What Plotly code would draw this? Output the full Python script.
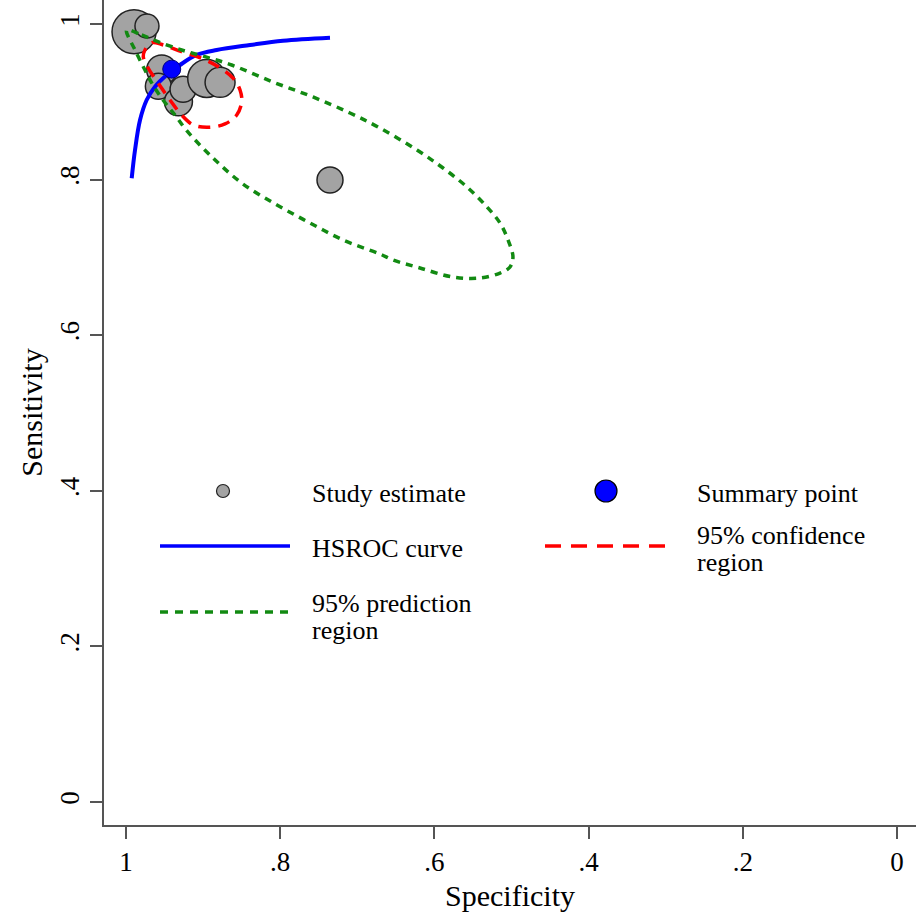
import plotly.graph_objects as go

# ---- data ----
study_spec = [0.9896, 0.9728, 0.9537, 0.9580, 0.9320, 0.9260, 0.8953, 0.8780, 0.7354]
study_sens = [0.9900, 0.9974, 0.9410, 0.9200, 0.9000, 0.9160, 0.9300, 0.9250, 0.7995]
study_size = [44, 24, 30, 26, 28, 26, 38, 30, 26]

summary_spec = [0.9407]
summary_sens = [0.9420]

hsroc_spec = [0.9926, 0.9883, 0.9818, 0.9732, 0.9624, 0.9472, 0.9300, 0.9083, 0.8824, 0.8392, 0.7964, 0.7354]
hsroc_sens = [0.8017, 0.8380, 0.8766, 0.9023, 0.9194, 0.9344, 0.9473, 0.9602, 0.9666, 0.9730, 0.9785, 0.9824]

conf_spec = [0.9754, 0.9667, 0.9516, 0.9278, 0.9018, 0.8803, 0.8608, 0.8521, 0.8499, 0.8564,
             0.8716, 0.8933, 0.9127, 0.9278, 0.9429, 0.9581, 0.9711, 0.9776, 0.9754]
conf_sens = [0.9666, 0.9760, 0.9730, 0.9644, 0.9559, 0.9451, 0.9302, 0.9152, 0.9001, 0.8830,
             0.8715, 0.8672, 0.8702, 0.8830, 0.9023, 0.9238, 0.9431, 0.9580, 0.9666]

pred_spec = [0.9991, 0.9796, 0.9585, 0.9278, 0.8975, 0.8629, 0.8093, 0.7575, 0.7095, 0.6706,
             0.6226, 0.5888, 0.5577, 0.5318, 0.5149, 0.5045, 0.4981, 0.5019, 0.5149, 0.5409,
             0.5759, 0.6187, 0.6537, 0.6706, 0.7185, 0.7613, 0.8042, 0.8482, 0.8872, 0.9209,
             0.9364, 0.9520, 0.9667, 0.9754, 0.9883, 0.9991]
pred_sens = [0.9923, 0.9859, 0.9772, 0.9666, 0.9580, 0.9473, 0.9254, 0.9062, 0.8856, 0.8663,
             0.8380, 0.8149, 0.7905, 0.7648, 0.7442, 0.7224, 0.7005, 0.6877, 0.6799, 0.6735,
             0.6748, 0.6864, 0.6967, 0.7044, 0.7224, 0.7442, 0.7674, 0.7943, 0.8278, 0.8625,
             0.8830, 0.9023, 0.9242, 0.9409, 0.9666, 0.9923]

tick_vals = [0, 0.2, 0.4, 0.6, 0.8, 1]
tick_text = ["0", ".2", ".4", ".6", ".8", "1"]

FONT = "Liberation Serif"
GRAY = "#a3a3a3"
AX = "#555555"

fig = go.Figure()
fig.add_trace(go.Scatter(x=study_spec, y=study_sens, mode="markers",
                         marker=dict(size=study_size, color=GRAY, opacity=1,
                                     line=dict(color="#222222", width=1.5)),
                         showlegend=False))
fig.add_trace(go.Scatter(x=hsroc_spec, y=hsroc_sens, mode="lines", line_shape="spline",
                         line=dict(color="#0000ff", width=4), showlegend=False))
fig.add_trace(go.Scatter(x=conf_spec, y=conf_sens, mode="lines", line_shape="spline",
                         line=dict(color="#ff0000", width=3.5, dash="12px,8px"), showlegend=False))
fig.add_trace(go.Scatter(x=pred_spec, y=pred_sens, mode="lines", line_shape="spline",
                         line=dict(color="#128a12", width=3.5, dash="7px,6px"), showlegend=False))
fig.add_trace(go.Scatter(x=summary_spec, y=summary_sens, mode="markers",
                         marker=dict(size=18, color="#0000ff", opacity=1,
                                     line=dict(color="#000080", width=1)),
                         showlegend=False))

# ---- manual legend (paper coordinates) ----
L, W, B, H = 104, 812, 825, 825
def px(x):
    return (x - L) / W
def py(y):
    return (B - y) / H

shapes = [
    dict(type="circle", xref="paper", yref="paper", xsizemode="pixel", ysizemode="pixel",
         xanchor=px(223), yanchor=py(491), x0=-6.5, x1=6.5, y0=-6.5, y1=6.5,
         fillcolor=GRAY, line=dict(color="#222222", width=1.2)),
    dict(type="circle", xref="paper", yref="paper", xsizemode="pixel", ysizemode="pixel",
         xanchor=px(606), yanchor=py(491), x0=-11, x1=11, y0=-11, y1=11,
         fillcolor="#0000ff", line=dict(color="#000000", width=1.2)),
    dict(type="line", xref="paper", yref="paper", x0=px(160), x1=px(290), y0=py(546), y1=py(546),
         line=dict(color="#0000ff", width=3.5)),
    dict(type="line", xref="paper", yref="paper", x0=px(545), x1=px(672), y0=py(546), y1=py(546),
         line=dict(color="#ff0000", width=3.5, dash="16px,10px")),
    dict(type="line", xref="paper", yref="paper", x0=px(160), x1=px(290), y0=py(612), y1=py(612),
         line=dict(color="#128a12", width=3.5, dash="8px,7px")),
]

legend_text = [
    ("Study estimate", 310, 493),
    ("Summary point", 695, 493),
    ("HSROC curve", 310, 548),
    ("95% confidence", 695, 535),
    ("region", 695, 562),
    ("95% prediction", 310, 603),
    ("region", 310, 630),
]
annotations = [dict(text=t, xref="paper", yref="paper", x=px(x), y=py(y), xanchor="left",
                    yanchor="middle", showarrow=False, font=dict(family=FONT, size=26, color="black"))
               for t, x, y in legend_text]

fig.update_layout(
    width=916, height=917,
    margin=dict(l=104, r=0, t=0, b=92),
    paper_bgcolor="white", plot_bgcolor="white",
    shapes=shapes, annotations=annotations,
    font=dict(family=FONT, color="black"),
)
fig.update_xaxes(range=[1.02853, -0.02464], showgrid=False, zeroline=False,
                 showline=True, linecolor=AX, linewidth=2,
                 ticks="outside", ticklen=12, tickwidth=2, tickcolor=AX,
                 tickvals=tick_vals, ticktext=tick_text,
                 tickfont=dict(family=FONT, size=27, color="black"),
                 title=dict(text="Specificity", font=dict(family=FONT, size=30, color="black"), standoff=9))
fig.update_yaxes(range=[-0.02956, 1.03085], showgrid=False, zeroline=False,
                 showline=True, linecolor=AX, linewidth=2,
                 ticks="outside", ticklen=12, tickwidth=2, tickcolor=AX,
                 tickvals=tick_vals, ticktext=tick_text, tickangle=-90,
                 tickfont=dict(family=FONT, size=27, color="black"),
                 title=dict(text="Sensitivity", font=dict(family=FONT, size=30, color="black"), standoff=4))

fig.write_html("out.html", config={"displayModeBar": False},
               post_script="document.body.style.margin='0';")
